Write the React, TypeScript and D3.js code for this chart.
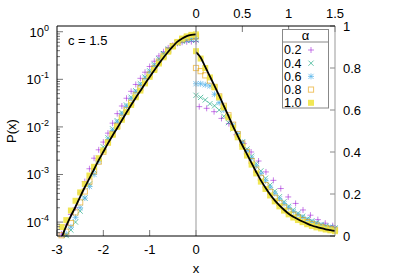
import React from "react";
import * as d3 from "d3";

// x grids of the histogram bins
const leftX = [-2.9, -2.8, -2.7, -2.6, -2.5, -2.4, -2.3, -2.2, -2.1, -2.0, -1.9, -1.8, -1.7, -1.6, -1.5, -1.4, -1.3, -1.2, -1.1, -1.0, -0.9, -0.8, -0.7, -0.6, -0.5, -0.4, -0.3, -0.2, -0.1, 0];
const rightX = [0, 0.05, 0.1, 0.15, 0.2, 0.25, 0.3, 0.35, 0.4, 0.45, 0.5, 0.55, 0.6, 0.65, 0.7, 0.75, 0.8, 0.85, 0.9, 0.95, 1.0, 1.05, 1.1, 1.15, 1.2, 1.25, 1.3, 1.35, 1.4, 1.45, 1.5];
const rightX02 = [0.035, 0.115, 0.195, 0.275, 0.355, 0.435, 0.515, 0.595, 0.675, 0.755, 0.835, 0.915, 0.995, 1.075, 1.155, 1.235, 1.315, 1.395, 1.475];

// theory curve
const leftCurve = [4.7e-5, 8.3e-5, 1.35e-4, 2.1e-4, 3.4e-4, 5.4e-4, 8.3e-4, 1.29e-3, 2.0e-3, 3.0e-3, 4.5e-3, 6.6e-3, 9.5e-3, 0.0138, 0.02, 0.0288, 0.041, 0.0575, 0.081, 0.112, 0.155, 0.214, 0.288, 0.38, 0.49, 0.62, 0.72, 0.81, 0.86, 0.88];
const rightCurve = [0.875, 0.85, 0.805, 0.76, 0.715, 0.668, 0.62, 0.572, 0.522, 0.477, 0.432, 0.39, 0.347, 0.305, 0.265, 0.23, 0.198, 0.17, 0.146, 0.125, 0.106, 0.092, 0.08, 0.069, 0.059, 0.05, 0.043, 0.037, 0.032, 0.028, 0.024];

// simulation, x < 0 (log axis)
const left02 = [5.6e-5, 8.7e-5, 1.45e-4, 2.0e-4, 4.1e-4, 7.1e-4, 1.32e-3, 2.2e-3, 3.3e-3, 4.8e-3, 7.4e-3, 0.012, 0.019, 0.0275, 0.04, 0.056, 0.078, 0.105, 0.141, 0.186, 0.24, 0.31, 0.38, 0.457, 0.52, 0.57, 0.6, 0.615, 0.62, 0.62];
const left04 = [4.0e-5, 5.2e-5, 6.8e-5, 1.0e-4, 1.7e-4, 3.2e-4, 6.3e-4, 1.23e-3, 2.2e-3, 3.8e-3, 5.9e-3, 9.1e-3, 0.0135, 0.02, 0.0288, 0.042, 0.0575, 0.081, 0.112, 0.151, 0.204, 0.27, 0.347, 0.436, 0.51, 0.58, 0.63, 0.655, 0.665, 0.67];
const left06 = [4.0e-5, 5.6e-5, 7.9e-5, 1.26e-4, 2.0e-4, 3.2e-4, 5.6e-4, 1.0e-3, 1.9e-3, 3.3e-3, 5.4e-3, 8.3e-3, 0.0126, 0.0186, 0.027, 0.039, 0.054, 0.076, 0.105, 0.141, 0.19, 0.25, 0.33, 0.417, 0.5, 0.58, 0.645, 0.69, 0.715, 0.725];
const left08 = [5.3e-5, 6.3e-5, 9.5e-5, 1.6e-4, 2.6e-4, 4.4e-4, 7.1e-4, 1.17e-3, 1.86e-3, 3.0e-3, 4.7e-3, 7.1e-3, 0.0105, 0.0155, 0.0224, 0.032, 0.046, 0.065, 0.091, 0.126, 0.17, 0.234, 0.31, 0.4, 0.5, 0.6, 0.69, 0.75, 0.785, 0.8];
const left10 = [7.9e-5, 1.1e-4, 1.75e-4, 2.8e-4, 4.2e-4, 6.3e-4, 9.5e-4, 1.45e-3, 2.2e-3, 3.2e-3, 4.7e-3, 6.8e-3, 0.01, 0.0141, 0.0205, 0.029, 0.042, 0.058, 0.082, 0.113, 0.157, 0.215, 0.29, 0.38, 0.49, 0.61, 0.72, 0.8, 0.86, 0.88];

// simulation, x > 0 (linear axis)
const right02 = [0.616, 0.608, 0.592, 0.56, 0.535, 0.482, 0.44, 0.4, 0.357, 0.305, 0.265, 0.226, 0.186, 0.155, 0.124, 0.099, 0.078, 0.061, 0.049];
const right04 = [0.67, 0.66, 0.648, 0.63, 0.62, 0.6, 0.57, 0.54, 0.51, 0.48, 0.448, 0.414, 0.38, 0.345, 0.31, 0.275, 0.243, 0.214, 0.187, 0.163, 0.142, 0.124, 0.108, 0.094, 0.082, 0.072, 0.063, 0.055, 0.048, 0.043, 0.038];
const right06 = [0.725, 0.725, 0.72, 0.715, 0.675, 0.635, 0.6, 0.565, 0.528, 0.487, 0.446, 0.406, 0.37, 0.333, 0.297, 0.263, 0.232, 0.203, 0.177, 0.154, 0.134, 0.116, 0.101, 0.088, 0.077, 0.067, 0.059, 0.051, 0.045, 0.04, 0.035];
const right08 = [0.8, 0.785, 0.765, 0.74, 0.71, 0.665, 0.62, 0.575, 0.53, 0.485, 0.44, 0.4, 0.357, 0.316, 0.277, 0.242, 0.21, 0.182, 0.157, 0.136, 0.117, 0.101, 0.088, 0.076, 0.066, 0.057, 0.05, 0.043, 0.038, 0.033, 0.029];
const right10 = [0.88, 0.845, 0.8, 0.755, 0.708, 0.66, 0.612, 0.565, 0.515, 0.47, 0.425, 0.383, 0.34, 0.298, 0.259, 0.224, 0.193, 0.165, 0.141, 0.121, 0.103, 0.088, 0.076, 0.066, 0.056, 0.048, 0.041, 0.036, 0.031, 0.027, 0.023];

const alphaLabels = ["0.2", "0.4", "0.6", "0.8", "1.0"];
const bottomTicks = [-3, -2, -1, 0];
const topTicks = [0, 0.5, 1, 1.5];
const rightTicks = [0, 0.2, 0.4, 0.6, 0.8, 1];
const decades = [-4, -3, -2, -1, 0];

const FONT = "'Liberation Sans', Arial, Helvetica, sans-serif";
const fr = { left: 57, split: 196, right: 335, top: 26, bottom: 236 };

const styles = [
  { shape: "plus", color: "#9400d3", opacity: 0.5 },
  { shape: "cross", color: "#009e73", opacity: 0.6 },
  { shape: "star", color: "#56b4e9", opacity: 0.7 },
  { shape: "box", color: "#e69f00", opacity: 0.6 },
  { shape: "fbox", color: "#f0e442", opacity: 0.9 },
];

function Marker({ shape, x, y, color, opacity }: any) {
  const s = 3;
  const t = 2.6;
  if (shape === "plus")
    return <path d={`M${x - s},${y}h${2 * s}M${x},${y - s}v${2 * s}`} stroke={color} strokeOpacity={opacity} fill="none" />;
  if (shape === "cross")
    return <path d={`M${x - t},${y - t}l${2 * t},${2 * t}M${x - t},${y + t}l${2 * t},${-2 * t}`} stroke={color} strokeOpacity={opacity} fill="none" />;
  if (shape === "star")
    return (
      <path
        d={`M${x - s},${y}h${2 * s}M${x},${y - s}v${2 * s}M${x - t},${y - t}l${2 * t},${2 * t}M${x - t},${y + t}l${2 * t},${-2 * t}`}
        stroke={color}
        strokeOpacity={opacity}
        fill="none"
      />
    );
  if (shape === "box")
    return <rect x={x - 2.6} y={y - 2.6} width={5.2} height={5.2} stroke={color} strokeOpacity={opacity} fill="none" />;
  return <rect x={x - 3} y={y - 3} width={6} height={6} fill={color} fillOpacity={opacity} />;
}

export default function App() {
  const xL = d3.scaleLinear().domain([-3, 0]).range([fr.left, fr.split]);
  const yL = d3.scaleLog().domain([5.1e-5, 1.32]).range([fr.bottom, fr.top]);
  const xR = d3.scaleLinear().domain([0, 1.5]).range([fr.split, fr.right]);
  const yR = d3.scaleLinear().domain([0, 1]).range([fr.bottom, fr.top]);

  const leftSeries = [left02, left04, left06, left08, left10];
  const rightSeries = [right02, right04, right06, right08, right10];

  const lineL = d3
    .line<number>()
    .x((_, i) => xL(leftX[i]))
    .y((d) => yL(d))
    .curve(d3.curveMonotoneX);
  const lineR = d3
    .line<number>()
    .x((_, i) => xR(rightX[i]))
    .y((d) => yR(d))
    .curve(d3.curveMonotoneX);

  const minorTicks = yL.ticks().filter((v) => v >= 5.1e-5 && v <= 1.32);
  const [lo, hi] = yL.domain();

  return (
    <svg
      width={399}
      height={279}
      style={{ position: "absolute", left: 0, top: 0, background: "#fff" }}
      fontFamily={FONT}
      fontSize={13}
    >
      <defs>
        <clipPath id="clipL">
          <rect x={fr.left} y={fr.top} width={fr.split - fr.left} height={fr.bottom - fr.top} />
        </clipPath>
        <clipPath id="clipR">
          <rect x={fr.split} y={fr.top} width={fr.right - fr.split} height={fr.bottom - fr.top} />
        </clipPath>
      </defs>

      {/* data points */}
      {styles.map((st, k) => (
        <g key={k}>
          {leftSeries[k].map((v, i) =>
            v >= lo && v <= hi ? <Marker key={"l" + i} {...st} x={xL(leftX[i])} y={yL(v)} /> : null
          )}
          {rightSeries[k].map((v, i) => (
            <Marker key={"r" + i} {...st} x={xR(k === 0 ? rightX02[i] : rightX[i])} y={yR(v)} />
          ))}
        </g>
      ))}

      {/* theory */}
      <path d={lineL(leftCurve) || ""} fill="none" stroke="#000" strokeWidth={1.8} clipPath="url(#clipL)" />
      <path d={lineR(rightCurve) || ""} fill="none" stroke="#000" strokeWidth={1.8} clipPath="url(#clipR)" />

      {/* left log axis ticks */}
      {minorTicks.map((v, i) => {
        const major = Math.abs(Math.log10(v) - Math.round(Math.log10(v))) < 1e-6;
        return (
          <line key={i} x1={fr.left} x2={fr.left + (major ? 6 : 3)} y1={yL(v)} y2={yL(v)} stroke="#777" />
        );
      })}
      {decades.map((p) => (
        <text key={p} x={49} y={yL(Math.pow(10, p)) + 5} textAnchor="end">
          10
          <tspan fontSize={9} dy={-6}>
            {p}
          </tspan>
        </text>
      ))}

      {/* bottom ticks */}
      {bottomTicks.map((t) => (
        <g key={t}>
          <line x1={xL(t)} x2={xL(t)} y1={fr.bottom} y2={fr.bottom - 6} stroke="#777" />
          <text x={xL(t)} y={254} textAnchor="middle">
            {t < 0 ? "-" + Math.abs(t) : String(t)}
          </text>
        </g>
      ))}

      {/* top ticks */}
      {topTicks.map((t) => (
        <g key={t}>
          <line x1={xR(t)} x2={xR(t)} y1={fr.top} y2={fr.top + 6} stroke="#777" />
          <text x={xR(t)} y={18} textAnchor="middle">
            {String(t)}
          </text>
        </g>
      ))}

      {/* right ticks */}
      {rightTicks.map((t) => (
        <g key={t}>
          <line x1={fr.right} x2={fr.right - 5} y1={yR(t)} y2={yR(t)} stroke="#888" />
          <text x={343} y={yR(t) + 4.5}>
            {String(t)}
          </text>
        </g>
      ))}

      {/* frame */}
      <line x1={fr.split} x2={fr.split} y1={fr.top} y2={fr.bottom} stroke="#999" />
      <line x1={fr.right} x2={fr.right} y1={fr.top} y2={fr.bottom} stroke="#999" />
      <line x1={fr.left} x2={fr.left} y1={fr.top} y2={fr.bottom} stroke="#000" />
      <line x1={fr.left} x2={fr.right} y1={fr.top} y2={fr.top} stroke="#000" />
      <line x1={fr.left} x2={fr.right} y1={fr.bottom} y2={fr.bottom} stroke="#000" />

      {/* labels */}
      <text x={68} y={44.5}>c = 1.5</text>
      <text x={0} y={0} textAnchor="middle" transform="translate(16,131) rotate(-90)">
        P(x)
      </text>
      <text x={fr.split} y={273} textAnchor="middle">
        x
      </text>

      {/* legend */}
      <g>
        <rect x={282.5} y={29.5} width={46} height={78.5} fill="#fff" stroke="#888" />
        <line x1={282.5} x2={328.5} y1={42} y2={42} stroke="#888" />
        <text x={305.5} y={40} textAnchor="middle">
          α
        </text>
        {alphaLabels.map((lab, k) => {
          const cy = 50 + k * 13.2;
          return (
            <g key={lab}>
              <text x={284} y={cy + 4.3} fontSize={12.5}>
                {lab}
              </text>
              <Marker {...styles[k]} x={311} y={cy} />
            </g>
          );
        })}
      </g>
    </svg>
  );
}
